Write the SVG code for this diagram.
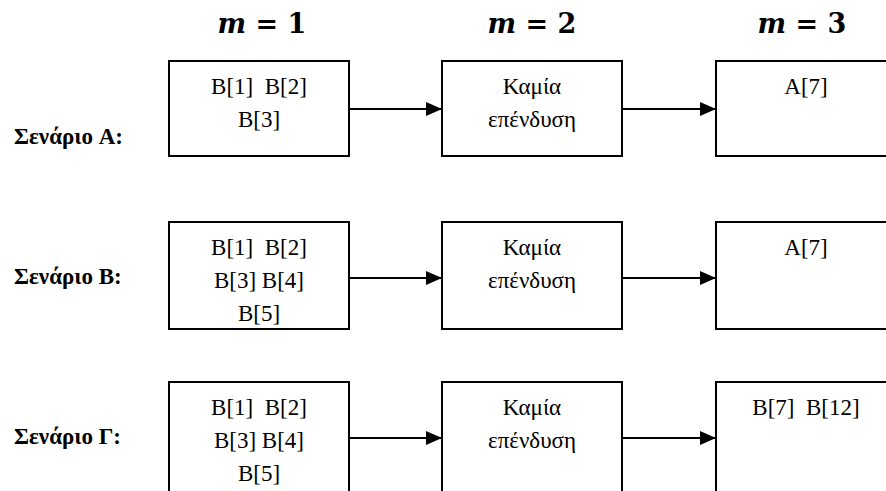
<svg xmlns="http://www.w3.org/2000/svg" width="886" height="491" viewBox="0 0 886 491" font-family="Liberation Serif, Times New Roman, serif">
<style>
.box{fill:#fff;stroke:#000;stroke-width:2}
.t{font-size:23px;text-anchor:middle;fill:#000}
.lbl{font-size:23px;font-weight:bold;fill:#000}
.hd{font-size:27px;font-weight:bold;text-anchor:middle;fill:#000}
.c{stroke:#000;stroke-width:2;fill:none}
</style>
<defs>
<marker id="ah" markerWidth="16" markerHeight="14" refX="16" refY="7" orient="auto" markerUnits="userSpaceOnUse" viewBox="0 0 16 14">
<path d="M0,0 L16,7 L0,14 z" fill="#000"/>
</marker>
</defs>
<g id="headers" font-family="DejaVu Serif, serif">
<text class="hd" x="262" y="33"><tspan font-style="italic">m</tspan> = 1</text>
<text class="hd" x="532" y="33"><tspan font-style="italic">m</tspan> = 2</text>
<text class="hd" x="802" y="33"><tspan font-style="italic">m</tspan> = 3</text>
</g>
<g id="labels">
<text class="lbl" x="14" y="144">Σενάριο A:</text>
<text class="lbl" x="14" y="284">Σενάριο B:</text>
<text class="lbl" x="14" y="444">Σενάριο Γ:</text>
</g>
<g id="connectors">
<line class="c" x1="349" y1="109" x2="442" y2="109" marker-end="url(#ah)"/>
<line class="c" x1="622" y1="109" x2="716" y2="109" marker-end="url(#ah)"/>
<line class="c" x1="349" y1="278" x2="442" y2="278" marker-end="url(#ah)"/>
<line class="c" x1="622" y1="278" x2="716" y2="278" marker-end="url(#ah)"/>
<line class="c" x1="349" y1="438" x2="442" y2="438" marker-end="url(#ah)"/>
<line class="c" x1="622" y1="438" x2="716" y2="438" marker-end="url(#ah)"/>
</g>
<g id="a1"><rect class="box" x="169" y="61" width="180" height="95"/><text class="t" x="259" y="94" xml:space="preserve">B[1]  B[2]</text><text class="t" x="259" y="127">B[3]</text></g>
<g id="a2"><rect class="box" x="442" y="61" width="180" height="95"/><text class="t" x="532" y="94">Καμία</text><text class="t" x="532" y="127">επένδυση</text></g>
<g id="a3"><rect class="box" x="716" y="61" width="180" height="95"/><text class="t" x="806" y="94">A[7]</text></g>
<g id="b1"><rect class="box" x="169" y="222" width="180" height="107"/><text class="t" x="259" y="255" xml:space="preserve">B[1]  B[2]</text><text class="t" x="259" y="288">B[3] B[4]</text><text class="t" x="259" y="321">B[5]</text></g>
<g id="b2"><rect class="box" x="442" y="222" width="180" height="107"/><text class="t" x="532" y="255">Καμία</text><text class="t" x="532" y="288">επένδυση</text></g>
<g id="b3"><rect class="box" x="716" y="222" width="180" height="107"/><text class="t" x="806" y="255">A[7]</text></g>
<g id="c1"><rect class="box" x="169" y="382" width="180" height="120"/><text class="t" x="259" y="415" xml:space="preserve">B[1]  B[2]</text><text class="t" x="259" y="448">B[3] B[4]</text><text class="t" x="259" y="481">B[5]</text></g>
<g id="c2"><rect class="box" x="442" y="382" width="180" height="120"/><text class="t" x="532" y="415">Καμία</text><text class="t" x="532" y="448">επένδυση</text></g>
<g id="c3"><rect class="box" x="716" y="382" width="180" height="120"/><text class="t" x="806" y="415" xml:space="preserve">B[7]  B[12]</text></g>
</svg>
